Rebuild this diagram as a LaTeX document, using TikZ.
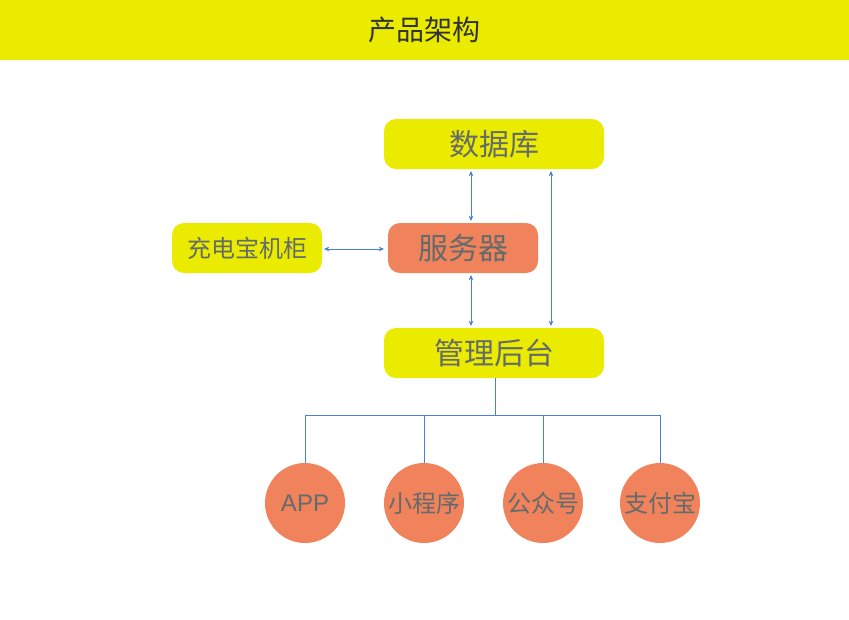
\documentclass[tikz,border=0pt]{standalone}
\usepackage{fontspec}
\setmainfont{Noto Sans CJK SC}
\newfontfamily\latinsans{Liberation Sans}
\usetikzlibrary{arrows.meta}
\definecolor{banner}{HTML}{EBEB00}
\definecolor{orangefill}{HTML}{F0825C}
\definecolor{txtgray}{HTML}{646B6B}
\definecolor{linkblue}{HTML}{4A80DC}
\tikzset{
  ybox/.style={fill=banner, rounded corners=9pt, text=txtgray, inner sep=0pt},
  obox/.style={fill=orangefill, rounded corners=9pt, text=txtgray, inner sep=0pt},
  circ/.style={circle, fill=orangefill, minimum size=60pt, inner sep=0pt, text=txtgray, font=\fontsize{18pt}{18pt}\selectfont},
  link/.style={draw=linkblue, line width=0.7pt},
  dlink/.style={link, {Stealth[length=4pt,width=3.5pt]}-{Stealth[length=4pt,width=3.5pt]}}
}
\begin{document}
\begin{tikzpicture}[x=0.75pt,y=-0.75pt]
\useasboundingbox (0,0) rectangle (849,619);
\fill[white] (0,0) rectangle (849,619);
\fill[banner] (0,0) rectangle (849,60);
\node[text=black!80, font=\fontsize{21pt}{21pt}\selectfont] (title) at (424,30) {产品架构};

\node[ybox, minimum width=165pt, minimum height=37.5pt, font=\fontsize{22.5pt}{22.5pt}\selectfont] (db) at (494,144) {数据库};
\node[obox, minimum width=112.5pt, minimum height=37.5pt, font=\fontsize{22.5pt}{22.5pt}\selectfont] (srv) at (463,248) {服务器};
\node[ybox, minimum width=112.5pt, minimum height=37.5pt, font=\fontsize{18pt}{18pt}\selectfont] (cab) at (247,248) {充电宝机柜};
\node[ybox, minimum width=165pt, minimum height=37.5pt, font=\fontsize{22.5pt}{22.5pt}\selectfont] (adm) at (494,353) {管理后台};

\node[circ] (app) at (305,503) {\latinsans APP};
\node[circ] (mini) at (424,503) {小程序};
\node[circ] (pub) at (543,503) {公众号};
\node[circ] (ali) at (660,503) {支付宝};

\coordinate (a1) at (471,171);
\coordinate (a2) at (471,221);
\coordinate (b1) at (471,275);
\coordinate (b2) at (471,326);
\coordinate (c1) at (551,171);
\coordinate (c2) at (551,326);
\coordinate (d1) at (324,249);
\coordinate (d2) at (384,249);
\draw[dlink] (a1) -- (a2);
\draw[dlink] (b1) -- (b2);
\draw[dlink] (c1) -- (c2);
\draw[dlink] (d1) -- (d2);

\coordinate (hub) at (495,415);
\draw[link] (adm.south -| hub) -- (hub);
\draw[link] (app.north) |- (hub);
\draw[link] (ali.north) |- (hub);
\draw[link] (mini.north) -- (mini.north |- hub);
\draw[link] (pub.north) -- (pub.north |- hub);
\end{tikzpicture}
\end{document}
